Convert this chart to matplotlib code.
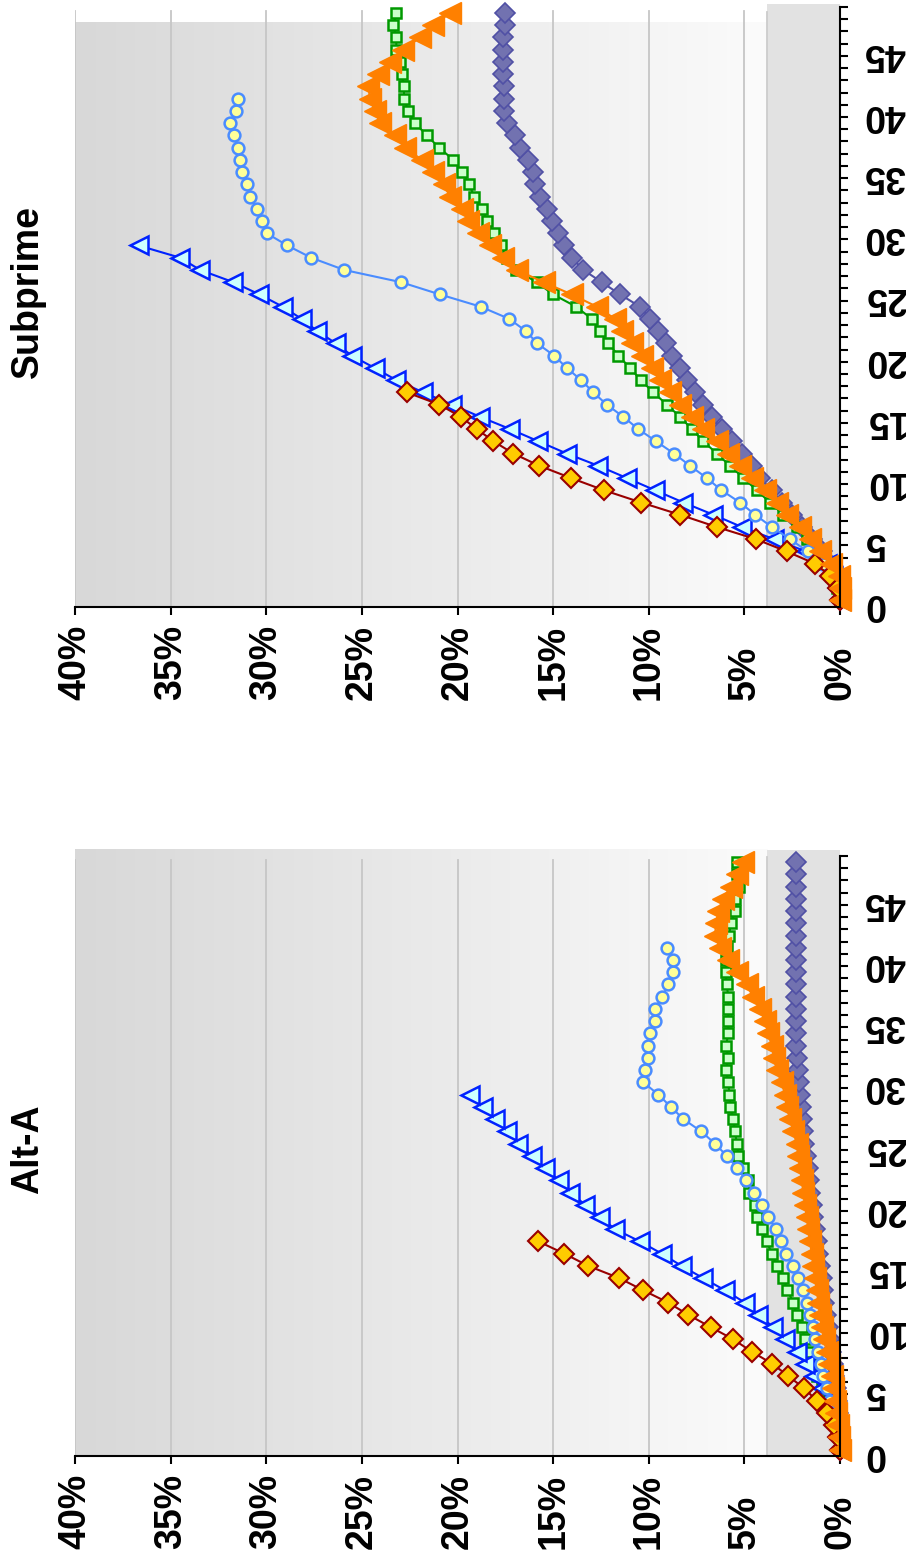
import numpy as np
import matplotlib
matplotlib.use("Agg")
import matplotlib.pyplot as plt
from matplotlib.colors import LinearSegmentedColormap

plt.rcParams['font.family'] = ['Liberation Sans', 'DejaVu Sans']

# months since origination (one point per month)
months = list(range(0, 49))
month_labels = [str(m) for m in range(0, 50, 5)]
pct_ticks = [0, 5, 10, 15, 20, 25, 30, 35, 40]
pct_labels = [f'{p}%' for p in pct_ticks]

# Subprime, cumulative % by vintage
sub_gold = [0, 0.1, 0.5, 1.31, 2.79, 4.39, 6.45, 8.37, 10.4, 12.34, 14.07, 15.72,
            17.08, 18.12, 18.99, 19.83, 20.95, 22.66]
sub_tri = [0, 0.1, 0.35, 0.7, 1.78, 3.45, 5.14, 6.62, 8.19, 9.67, 11.15, 12.64,
           14.29, 15.77, 17.25, 18.82, 20.3, 21.8, 23.2, 24.34, 25.53, 26.36, 27.33,
           28.15, 29.14, 30.36, 31.72, 33.46, 34.5, 36.68]
sub_circ = [0, 0.1, 0.4, 0.9, 1.7, 2.61, 3.57, 4.44, 5.23, 6.2, 6.97, 7.84, 8.68,
            9.62, 10.55, 11.33, 12.2, 12.9, 13.54, 14.29, 14.95, 15.83, 16.42, 17.29,
            18.79, 20.92, 22.95, 25.92, 27.65, 28.9, 29.98, 30.2, 30.5, 30.85, 31.0,
            31.27, 31.37, 31.5, 31.7, 31.9, 31.6, 31.5]
sub_sq = [0, 0.15, 0.45, 0.8, 1.22, 1.74, 2.26, 2.96, 3.66, 4.36, 5.05, 5.75, 6.45,
          7.14, 7.75, 8.37, 9.06, 9.76, 10.42, 10.98, 11.59, 12.11, 12.55, 12.98, 13.8,
          15.0, 15.86, 16.96, 17.43, 17.74, 18.09, 18.44, 18.73, 19.14, 19.38, 19.78,
          20.22, 20.97, 21.61, 22.22, 22.57, 22.8, 22.8, 22.92, 23.0, 23.2, 23.2, 23.35,
          23.2]
sub_orange = [0, 0, 0.05, 0.45, 1.05, 1.57, 2.09, 2.79, 3.31, 3.92, 4.62, 5.23, 5.84,
              6.45, 7.15, 7.75, 8.37, 8.89, 9.41, 9.85, 10.37, 10.89, 11.41, 11.76,
              12.72, 14.03, 15.5, 16.9, 17.6, 18.3, 18.91, 19.43, 19.78, 20.39, 20.73,
              21.26, 21.87, 22.75, 23.27, 24.05, 24.31, 24.58, 24.66, 24.14, 23.53,
              22.83, 21.96, 21.26, 20.39]
sub_slate = [0, 0.1, 0.25, 0.52, 0.96, 1.48, 2.0, 2.53, 3.05, 3.57, 4.18, 4.62, 5.14,
             5.66, 6.19, 6.71, 7.15, 7.58, 8.02, 8.37, 8.8, 9.1, 9.5, 9.93, 10.46, 11.5,
             12.46, 13.42, 14.03, 14.43, 14.73, 15.07, 15.34, 15.69, 15.95, 16.06,
             16.34, 16.73, 16.99, 17.43, 17.55, 17.55, 17.55, 17.6, 17.6, 17.6, 17.6,
             17.52, 17.52]

# Alt-A, cumulative % by vintage
alt_gold = [0, 0.1, 0.3, 0.66, 1.22, 1.88, 2.7, 3.54, 4.62, 5.58, 6.76, 7.93, 8.98,
            10.28, 11.54, 13.16, 14.41, 15.77]
alt_tri = [0, 0.05, 0.15, 0.35, 0.6, 0.96, 1.36, 1.83, 2.27, 2.88, 3.49, 4.27, 4.97,
           6.01, 7.15, 8.28, 9.32, 10.46, 11.76, 12.55, 13.33, 14.1, 14.72, 15.42,
           16.12, 16.82, 17.43, 18.04, 18.67, 19.35]
alt_circ = [0, 0.05, 0.15, 0.3, 0.5, 0.7, 0.87, 1.01, 1.13, 1.31, 1.43, 1.57, 1.74,
            1.95, 2.21, 2.47, 2.82, 3.09, 3.35, 3.75, 4.1, 4.5, 4.91, 5.37, 5.93, 6.54,
            7.27, 8.19, 8.85, 9.5, 10.28, 10.2, 10.05, 10.05, 9.93, 9.7, 9.7, 9.29,
            8.98, 8.75, 8.75, 9.07]
alt_sq = [0, 0.05, 0.2, 0.45, 0.7, 0.95, 1.2, 1.48, 1.65, 1.83, 2.0, 2.27, 2.44, 2.75,
          2.96, 3.31, 3.57, 3.83, 4.1, 4.36, 4.44, 4.74, 4.79, 5.05, 5.31, 5.4, 5.49,
          5.58, 5.75, 5.79, 5.84, 5.96, 5.84, 5.96, 5.84, 5.84, 5.84, 5.84, 5.93, 5.98,
          5.98, 5.93, 5.8, 5.71, 5.49, 5.49, 5.27, 5.37, 5.37]
alt_orange = [0, 0.05, 0.1, 0.2, 0.27, 0.35, 0.43, 0.56, 0.7, 0.84, 0.96, 1.05, 1.13,
              1.22, 1.31, 1.39, 1.48, 1.57, 1.66, 1.74, 1.83, 1.92, 2.0, 2.09, 2.18,
              2.27, 2.44, 2.61, 2.79, 2.88, 3.05, 3.31, 3.45, 3.57, 3.75, 3.92, 4.18,
              4.56, 4.87, 5.37, 5.84, 6.27, 6.54, 6.48, 6.36, 6.13, 5.71, 5.37, 5.05]
alt_slate = [0, 0.02, 0.05, 0.1, 0.16, 0.22, 0.3, 0.38, 0.46, 0.55, 0.64, 0.73, 0.82,
             0.9, 0.96, 1.06, 1.13, 1.22, 1.31, 1.4, 1.48, 1.56, 1.62, 1.7, 1.8, 1.88,
             1.95, 2.0, 2.05, 2.1, 2.15, 2.2, 2.25, 2.3, 2.3, 2.3, 2.3, 2.3, 2.3, 2.3,
             2.3, 2.3, 2.3, 2.3, 2.3, 2.3, 2.3, 2.3, 2.3]

band_edge = 3.8
grad_cmap = LinearSegmentedColormap.from_list('bg', ['#d8d8d8', '#fbfbfb'])


def draw_panel(ax, title, title_y, grad_top, band_top, gold, tri, circ, sq, orange, slate):
    # plot-area background: grey gradient plus a darker strip near 0%
    ax.imshow(np.linspace(0, 1, 256).reshape(1, -1), cmap=grad_cmap, aspect='auto',
              extent=[40, band_edge, -0.5, grad_top], zorder=0, clip_on=False)
    ax.fill_betweenx([-0.5, band_top], 0, band_edge, color='#e2e2e2', lw=0,
                     zorder=0, clip_on=False)
    ax.plot([band_edge, band_edge], [-0.5, band_top - 0.6], color='#cccccc', lw=1.3,
            zorder=1)
    for p in pct_ticks[1:]:
        ax.plot([p, p], [-0.5, 48.2], color='#c6c6c6', lw=1.3, zorder=1)

    ax.plot(slate, months[:len(slate)], color='#5050a5', lw=1.5, marker='D', ms=10.5,
            mfc='#7272b0', mec='#5050a5', mew=1.2, zorder=3, clip_on=False)
    ax.plot(sq, months[:len(sq)], color='#009900', lw=1.5, marker='s', ms=7.5,
            mfc='#ccffcc', mec='#009900', mew=1.8, zorder=4, clip_on=False)
    ax.plot(tri, months[:len(tri)], color='#0022ff', lw=1.5, marker='<', ms=13,
            mfc='#ccffff', mec='#0022ff', mew=1.8, zorder=5, clip_on=False)
    ax.plot(circ, months[:len(circ)], color='#4a8cff', lw=1.5, marker='o', ms=8.5,
            mfc='#ffff99', mec='#4a8cff', mew=1.8, zorder=6, clip_on=False)
    ax.plot(gold, months[:len(gold)], color='#990000', lw=1.5, marker='D', ms=10.5,
            mfc='#ffcc00', mec='#990000', mew=1.5, zorder=7, clip_on=False)
    ax.plot(orange, months[:len(orange)], color='#ff8000', lw=1.5, marker='<', ms=15.5,
            mfc='#ff8000', mec='#ff8000', mew=1, zorder=8, clip_on=False)

    ax.set_xlim(40, 0)
    ax.set_ylim(-0.5, 48.5)
    ax.set_facecolor('white')
    for side in ['left', 'top']:
        ax.spines[side].set_visible(False)
    for side in ['bottom', 'right']:
        ax.spines[side].set_linewidth(1.5)
        ax.spines[side].set_zorder(9)

    # percent labels read upwards and start at a common baseline below the axis
    ax.set_xticks(pct_ticks)
    ax.set_xticklabels(pct_labels, rotation=90, rotation_mode='anchor', ha='left',
                       va='center', fontsize=27, fontweight='bold')
    ax.tick_params(axis='x', direction='out', length=6, width=1.5, pad=61)

    ax.yaxis.tick_right()
    ax.set_yticks(range(0, 50, 5))
    ax.set_yticklabels(month_labels, rotation=180, fontsize=27, fontweight='bold')
    ax.set_yticks(np.arange(-0.5, 49, 1), minor=True)
    ax.tick_params(axis='y', which='major', length=0, pad=17)
    ax.tick_params(axis='y', which='minor', direction='out', length=6, width=1.5)

    ax.text(-0.061, title_y, title, transform=ax.transAxes, rotation=90, ha='center',
            va='center', fontsize=27, fontweight='bold')


fig = plt.figure(figsize=(9.06, 15.56), dpi=100)
ax_top = fig.add_axes([0.0828, 0.6102, 0.8444, 0.3854])
ax_bot = fig.add_axes([0.0828, 0.0645, 0.8444, 0.3854])

draw_panel(ax_top, 'Subprime', 0.526, 47.26, 48.7,
           sub_gold, sub_tri, sub_circ, sub_sq, sub_orange, sub_slate)
draw_panel(ax_bot, 'Alt-A', 0.511, 49.05, 49.0,
           alt_gold, alt_tri, alt_circ, alt_sq, alt_orange, alt_slate)

fig.savefig('out.png', dpi=100)
